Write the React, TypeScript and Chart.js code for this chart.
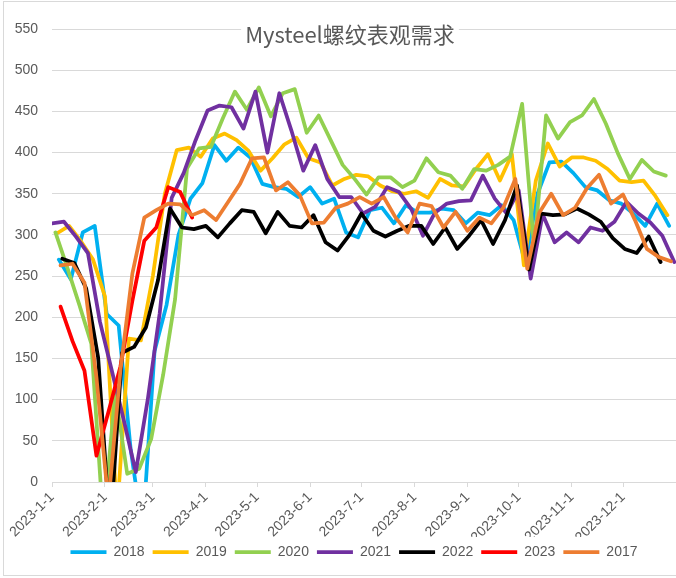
import React, { useEffect, useRef } from 'react';
import { Chart, registerables } from 'chart.js';

Chart.register(...registerables);

const TITLE = 'Mysteel螺纹表观需求';

// x axis: day-of-year in 2023 (Jan 1 = 0)
const MONTH_DAYS = [0, 31, 59, 90, 120, 151, 181, 212, 243, 273, 304, 334];
const MONTH_LABELS = [
  '2023-1-1', '2023-2-1', '2023-3-1', '2023-4-1', '2023-5-1', '2023-6-1',
  '2023-7-1', '2023-8-1', '2023-9-1', '2023-10-1', '2023-11-1', '2023-12-1',
];
const Y_TICKS = [0, 50, 100, 150, 200, 250, 300, 350, 400, 450, 500, 550];

const SERIES_NAMES = ['2018', '2019', '2020', '2021', '2022', '2023', '2017'];
const SERIES_COLORS = ['#00B0F0', '#FFC000', '#92D050', '#7030A0', '#000000', '#FF0000', '#ED7D31'];
// first weekly observation, mapped onto 2023 (day of year)
const START_DAYS = [4, 3, 2, 0, 6, 5, 5];

const V2018 = [270, 246, 303, 311, 204, 190, 40, -60, 159, 215, 300, 344, 363, 409, 390, 406, 394, 362, 358, 356, 346, 358, 338, 344, 303, 297, 330, 333, 314, 336, 327, 327, 332, 330, 314, 327, 324, 336, 318, 265, 350, 388, 389, 375, 358, 354, 342, 338, 326, 311, 338, 311];
const V2019 = [302, 311, 292, 270, 225, -40, 174, 172, 250, 350, 403, 406, 395, 417, 423, 415, 402, 378, 393, 410, 418, 393, 388, 360, 368, 373, 371, 360, 353, 350, 353, 345, 368, 360, 359, 380, 398, 366, 398, 263, 366, 411, 383, 394, 394, 390, 380, 366, 364, 366, 347, 324];
const V2020 = [303, 260, 215, 168, -50, 108, 10, 16, 52, 130, 222, 381, 405, 407, 442, 474, 452, 479, 444, 472, 477, 424, 445, 415, 385, 368, 349, 370, 370, 358, 366, 393, 376, 372, 356, 380, 378, 385, 395, 459, 285, 445, 417, 437, 445, 465, 435, 399, 368, 391, 377, 372];
const V2021 = [314, 316, 298, 278, 195, 135, 75, 12, 100, 205, 345, 375, 415, 451, 457, 455, 429, 474, 400, 472, 427, 378, 409, 368, 346, 346, 326, 334, 358, 352, 332, 299, 327, 338, 341, 342, 372, 344, 326, 354, 247, 325, 291, 303, 291, 309, 305, 316, 340, 326, 315, 299, 267];
const V2022 = [271, 266, 235, 151, -60, 157, 164, 188, 245, 332, 309, 307, 311, 297, 314, 330, 328, 302, 328, 311, 309, 324, 291, 281, 300, 326, 305, 298, 305, 311, 311, 289, 309, 283, 299, 318, 289, 318, 360, 258, 326, 324, 325, 332, 325, 316, 296, 283, 278, 298, 267];
const V2023 = [213, 171, 135, 32, 85, 140, 220, 293, 309, 358, 352, 321];
const V2017 = [263, 265, 242, 127, -25, 135, 253, 321, 330, 338, 337, 324, 330, 318, 340, 362, 393, 394, 354, 364, 348, 314, 315, 333, 338, 346, 338, 346, 321, 303, 338, 335, 309, 328, 305, 321, 314, 333, 368, 259, 327, 350, 324, 333, 357, 373, 338, 349, 318, 283, 273, 268];

const SERIES_VALUES = [V2018, V2019, V2020, V2021, V2022, V2023, V2017];

const FONT = '"Liberation Sans", Arial, sans-serif';
const TEXT_COLOR = '#595959';
const GRID_COLOR = '#d9d9d9';

const titlePlugin = {
  id: 'excelTitle',
  afterDraw(chart: any) {
    const ctx = chart.ctx;
    ctx.save();
    ctx.font = '22px "Noto Sans CJK SC", sans-serif';
    const w = ctx.measureText(TITLE).width;
    const cx = 350;
    const cy = 35;
    ctx.fillStyle = '#ffffff';
    ctx.fillRect(cx - w / 2 - 4, cy - 14, w + 8, 28);
    ctx.fillStyle = TEXT_COLOR;
    ctx.textAlign = 'center';
    ctx.textBaseline = 'middle';
    ctx.fillText(TITLE, cx, cy);
    ctx.restore();
  },
};

const legendShiftPlugin = {
  id: 'legendShift',
  afterLayout(chart: any) {
    const lg = chart.legend;
    if (lg) {
      lg.left += 16;
      lg.right += 16;
    }
  },
};

export default function App() {
  const canvasRef = useRef<HTMLCanvasElement | null>(null);

  useEffect(() => {
    if (!canvasRef.current) return;
    const datasets = SERIES_NAMES.map((name, i) => ({
      label: name,
      data: SERIES_VALUES[i].map((v, k) => ({ x: START_DAYS[i] + 7 * k, y: v })),
      borderColor: SERIES_COLORS[i],
      backgroundColor: SERIES_COLORS[i],
      borderWidth: 3.75,
      borderCapStyle: 'round' as const,
      borderJoinStyle: 'round' as const,
      pointRadius: 0,
      pointHoverRadius: 0,
      tension: 0,
      order: SERIES_NAMES.length - i,
    }));

    const chart = new Chart(canvasRef.current, {
      type: 'line',
      data: { datasets },
      plugins: [titlePlugin, legendShiftPlugin],
      options: {
        animation: false,
        responsive: false,
        events: [],
        layout: { padding: { top: 29, bottom: 9, left: 0, right: 0 } },
        plugins: {
          title: { display: false },
          tooltip: { enabled: false },
          legend: {
            display: true,
            position: 'bottom',
            labels: {
              usePointStyle: true,
              pointStyle: 'line',
              pointStyleWidth: 36,
              boxHeight: 14,
              padding: 8,
              color: TEXT_COLOR,
              font: { family: FONT, size: 14 },
              sort: (a: any, b: any) => a.datasetIndex - b.datasetIndex,
            },
          },
        },
        scales: {
          x: {
            type: 'linear',
            min: 0,
            max: 365,
            afterBuildTicks: (scale: any) => {
              scale.ticks = MONTH_DAYS.map((d) => ({ value: d }));
            },
            afterFit: (scale: any) => {
              scale.height = 55;
            },
            ticks: {
              autoSkip: false,
              minRotation: 45,
              maxRotation: 45,
              padding: 2,
              color: TEXT_COLOR,
              font: { family: FONT, size: 14 },
              callback: (_v: any, idx: number) => MONTH_LABELS[idx],
            },
            grid: {
              drawOnChartArea: false,
              drawTicks: true,
              tickLength: 5,
              color: GRID_COLOR,
              lineWidth: 1,
            },
            border: { display: true, color: GRID_COLOR, width: 1 },
          },
          y: {
            type: 'linear',
            min: 0,
            max: 550,
            afterBuildTicks: (scale: any) => {
              scale.ticks = Y_TICKS.map((v) => ({ value: v }));
            },
            afterFit: (scale: any) => {
              scale.width = 52;
            },
            ticks: {
              padding: 14,
              color: TEXT_COLOR,
              font: { family: FONT, size: 14 },
            },
            grid: {
              drawTicks: false,
              color: GRID_COLOR,
              lineWidth: 1,
            },
            border: { display: false },
          },
        },
      },
    });
    return () => chart.destroy();
  }, []);

  return (
    <div style={{ position: 'fixed', left: 0, top: 0, width: 676, height: 578, background: '#ffffff', overflow: 'hidden' }}>
      <canvas ref={canvasRef} width={676} height={578} style={{ position: 'absolute', left: 0, top: 0 }} />
      <div
        style={{
          position: 'absolute',
          left: 3,
          top: 1,
          width: 720,
          height: 575,
          border: '1px solid #d9d9d9',
          boxSizing: 'border-box',
          pointerEvents: 'none',
        }}
      />
    </div>
  );
}
